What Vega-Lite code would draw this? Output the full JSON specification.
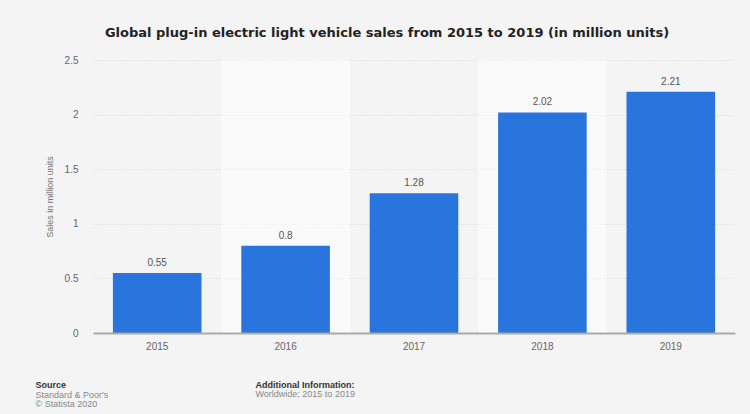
{
  "$schema": "https://vega.github.io/schema/vega-lite/v6.json",
  "autosize": {"type": "none"},
  "width": 642,
  "height": 273,
  "padding": {"left": 93, "top": 60, "right": 15, "bottom": 81},
  "background": "#f4f4f4",
  "config": {"font": "Liberation Sans", "view": {"stroke": null}},
  "title": {
    "text": "Global plug-in electric light vehicle sales from 2015 to 2019 (in million units)",
    "font": "DejaVu Sans",
    "fontSize": 13,
    "fontWeight": "bold",
    "color": "#222222",
    "anchor": "middle",
    "dx": -27,
    "offset": 15
  },
  "data": {
    "values": [
      {"year": "2015", "sales": 0.55},
      {"year": "2016", "sales": 0.8},
      {"year": "2017", "sales": 1.28},
      {"year": "2018", "sales": 2.02},
      {"year": "2019", "sales": 2.21}
    ]
  },
  "resolve": {"axis": {"x": "independent", "y": "independent"}},
  "layer": [
    {
      "transform": [{"filter": "datum.year == '2016' || datum.year == '2018'"}],
      "mark": {"type": "rect", "color": "#ffffff", "opacity": 0.55},
      "encoding": {
        "x": {
          "field": "year", "type": "nominal",
          "scale": {"paddingInner": 0, "paddingOuter": 0},
          "axis": {
            "orient": "bottom",
            "labelAngle": 0, "labelFontSize": 10, "labelColor": "#666666", "labelPadding": 8,
            "ticks": false, "domainColor": "#aaaaaa", "domainWidth": 2,
            "title": "Source", "titleX": -58, "titleY": 47.5, "titleAlign": "left",
            "titleBaseline": "top", "titleFontSize": 9, "titleFontWeight": "bold", "titleColor": "#333333"
          }
        },
        "y": {"datum": 2.5, "type": "quantitative", "scale": {"domain": [0, 2.5], "nice": false}, "axis": null},
        "y2": {"datum": 0}
      }
    },
    {
      "mark": {"type": "bar", "color": "#2876dd", "width": {"band": 0.69}},
      "encoding": {
        "x": {
          "field": "year", "type": "nominal",
          "axis": {
            "orient": "bottom",
            "labels": false, "ticks": false, "domain": false, "grid": false,
            "title": ["Standard & Poor's", "© Statista 2020"], "titleX": -58, "titleY": 57,
            "titleAlign": "left", "titleBaseline": "top", "titleLineHeight": 9.5,
            "titleFontSize": 9, "titleFontWeight": "normal", "titleColor": "#888888"
          }
        },
        "y": {
          "field": "sales", "type": "quantitative",
          "scale": {"domain": [0, 2.5], "nice": false},
          "axis": {
            "orient": "left",
            "values": [0, 0.5, 1, 1.5, 2, 2.5], "format": "~g",
            "grid": true, "gridColor": "#d9d9d9", "gridDash": [1, 2],
            "domain": false, "ticks": false, "tickSize": 0, "labelPadding": 15,
            "labelFontSize": 10, "labelColor": "#666666",
            "title": "Sales in million units", "titleFontSize": 9, "titleFontWeight": "normal",
            "titleColor": "#777777", "titlePadding": 10
          }
        }
      }
    },
    {
      "mark": {"type": "text", "baseline": "bottom", "dy": -5, "fontSize": 10, "color": "#555555"},
      "encoding": {
        "x": {
          "field": "year", "type": "nominal",
          "axis": {
            "orient": "bottom",
            "labels": false, "ticks": false, "domain": false, "grid": false,
            "title": "Additional Information:", "titleX": 162, "titleY": 47.5,
            "titleAlign": "left", "titleBaseline": "top",
            "titleFontSize": 9, "titleFontWeight": "bold", "titleColor": "#333333"
          }
        },
        "y": {
          "field": "sales", "type": "quantitative",
          "axis": {
            "orient": "left", "labels": false, "ticks": false, "domain": false, "grid": false,
            "title": "Worldwide; 2015 to 2019", "titleAngle": 0, "titleX": 162, "titleY": 329.5,
            "titleAlign": "left", "titleBaseline": "top",
            "titleFontSize": 9, "titleFontWeight": "normal", "titleColor": "#888888"
          }
        },
        "text": {"field": "sales", "type": "quantitative", "format": "~g"}
      }
    }
  ]
}
